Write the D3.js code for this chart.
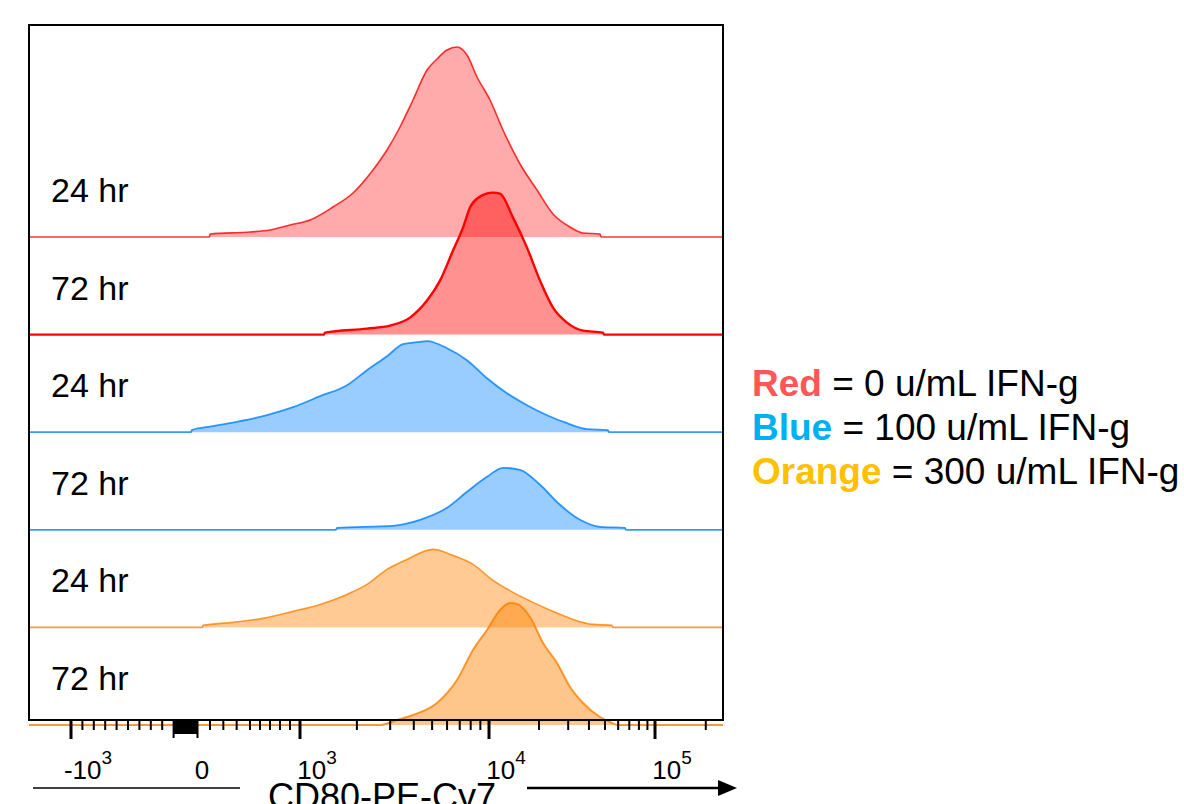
<!DOCTYPE html>
<html>
<head>
<meta charset="utf-8">
<script src="https://cdn.jsdelivr.net/npm/d3@7"></script>
<style>
	body { margin: 0; background: #fff; }
	svg { display: block; }
	text { font-family: "Liberation Sans", Arial, sans-serif; fill: #000; }
	.tick-label { font-family: "Liberation Sans Narrow", "Arial Narrow", "Liberation Sans", sans-serif; font-stretch: condensed; }
</style>
</head>
<body>
<div id="chart"></div>
<script>
(function() {
	var width = 1184,
		height = 804;

	// rows, top to bottom
	var seriesIds = ["red24", "red72", "blue24", "blue72", "orange24", "orange72"];
	var rowLabels = ["24 hr", "72 hr", "24 hr", "72 hr", "24 hr", "72 hr"];
	var rowColors = ["rgb(255,0,0)", "rgb(255,0,0)", "rgb(0,128,255)", "rgb(0,128,255)", "rgb(255,128,0)", "rgb(255,128,0)"];

	// CD80-PE-Cy7 intensity, count
	var red24 = [[196,0],[200,3],[500,5],[700,7],[900,12],[1130,17],[1495,30],[1908,44],[2433,67],[2886,87],[3382,110],[3962,137],[4699,167],[5307,178],[5995,187],[6771,190],[7649,182],[8641,160],[10140,137],[12140,107],[15370,73],[19460,47],[24300,23],[30760,10],[36850,4],[46640,3],[47300,0]];
	var red72 = [[1340,0],[1356,2],[2262,6],[2994,9],[3819,17],[4699,34],[5505,54],[6449,84],[7285,107],[7934,127],[8964,138],[10570,142],[11650,141],[13950,117],[16940,87],[20290,54],[24300,27],[29500,12],[36850,4],[48610,2],[49300,0]];
	var blue24 = [[48,0],[54,2],[222,6],[425,11],[670,17],[930,25],[1276,36],[1773,47],[2262,62],[2886,76],[3508,88],[4150,90],[4699,91],[5995,84],[7649,72],[9759,54],[12830,39],[16940,27],[22360,17],[29500,9],[38950,3],[52110,2],[52800,0]];
	var blue72 = [[1550,0],[1569,2],[3105,4],[4314,10],[5995,22],[7649,38],[9759,53],[12140,62],[15370,60],[20290,45],[26770,25],[35330,10],[46640,3],[65960,2],[66800,0]];
	var orange24 = [[138,0],[144,2],[372,5],[630,9],[930,16],[1276,23],[1773,33],[2262,43],[2886,58],[3683,68],[5054,78],[6449,72],[8229,63],[10570,47],[13950,35],[18410,25],[24300,16],[32060,8],[42320,3],[55080,2],[55800,0]];
	var orange72 = [[2650,0],[3262,5],[3962,10],[5307,22],[6771,45],[8229,75],[9759,95],[11650,115],[13380,122],[14750,121],[17660,108],[21150,82],[25680,62],[30760,38],[36850,22],[46640,8],[53570,3],[60000,0]];
	var seriesData = [red24, red72, blue24, blue72, orange24, orange72];

	// axis
	var axisMin = -2170, axisMax = 253000;
	var labelValues = [-1000, 0, 1000, 10000, 100000];
	var labelBases = ["-10", "0", "10", "10", "10"];
	var labelExps = ["3", "", "3", "4", "5"];
	var majorTicks = [-1000, 1000, 10000, 100000];
	var zeroTicks = d3.range(-100, 101, 10);
	var minorTicks = d3.range(-900, -100, 100)
		.concat(d3.range(200, 1000, 100))
		.concat(d3.range(2000, 10000, 1000))
		.concat(d3.range(20000, 100000, 10000))
		.concat([200000]);
	var axisTitle = "CD80-PE-Cy7";

	// legend
	var legendNames = ["Red", "Blue", "Orange"];
	var legendDoses = ["0", "100", "300"];
	var legendColors = ["#ff5757", "#00b0f0", "#ffc000"];

	var svg = d3.select("#chart")
		.append("svg")
		.attr("width", width)
		.attr("height", height);

	var frame = { left: 29, right: 723, top: 25, bottom: 720 };

	// biexponential-like display: linear near zero, log above 10^3
	function decade(v) {
		if (v > 1000) return 1 + Math.log10(v / 1000);
		if (v < -1000) return -1 - Math.log10(-v / 1000);
		return v / 1000;
	}
	var xScale = d3.scaleLinear()
		.domain([decade(axisMin), -1, 0, 0.2, 0.5, 1, 2, 3, decade(axisMax)])
		.range([frame.left, 71, 185, 210, 250, 300, 489, 655, frame.right]);
	var x = function(v) { return xScale(decade(v)); };

	var rowScale = d3.scalePoint()
		.domain(seriesIds)
		.range([237, 725]);

	var countScale = d3.scaleLinear()
		.domain([0, 100])
		.range([0, 100]);

	svg.append("rect")
		.attr("x", frame.left)
		.attr("y", frame.top)
		.attr("width", frame.right - frame.left)
		.attr("height", frame.bottom - frame.top)
		.attr("fill", "#fff");

	var fillOpacity = [0.33, 0.43, 0.4, 0.4, 0.42, 0.45];
	var strokeWidth = [1.6, 2.4, 1.8, 1.8, 1.6, 2];

	seriesIds.forEach(function(id, i) {
		var base = rowScale(id);
		var pts = [[axisMin, 0]].concat(seriesData[i]).concat([[axisMax, 0]]);

		var area = d3.area()
			.curve(d3.curveMonotoneX)
			.x(function(d) { return x(d[0]); })
			.y0(base)
			.y1(function(d) { return base - countScale(d[1]); });

		var line = d3.line()
			.curve(d3.curveMonotoneX)
			.x(function(d) { return x(d[0]); })
			.y(function(d) { return base - countScale(d[1]); });

		svg.append("path")
			.attr("d", area(pts))
			.attr("fill", rowColors[i])
			.attr("fill-opacity", fillOpacity[i]);

		svg.append("path")
			.attr("d", line(pts))
			.attr("fill", "none")
			.attr("stroke", rowColors[i])
			.attr("stroke-opacity", i === 1 ? 1 : 0.8)
			.attr("stroke-width", strokeWidth[i])
			.attr("stroke-linejoin", "round");
	});

	// row labels
	svg.selectAll(".row-label")
		.data(seriesIds)
		.enter().append("text")
		.attr("class", "row-label")
		.attr("x", 51)
		.attr("y", function(d) { return rowScale(d) - 35; })
		.attr("font-size", 34)
		.text(function(d, i) { return rowLabels[i]; });

	// frame
	svg.append("rect")
		.attr("x", frame.left)
		.attr("y", frame.top)
		.attr("width", frame.right - frame.left)
		.attr("height", frame.bottom - frame.top)
		.attr("fill", "none")
		.attr("stroke", "#000")
		.attr("stroke-width", 2);

	// ticks
	var ticks = svg.append("g");
	ticks.selectAll(".minor")
		.data(minorTicks)
		.enter().append("line")
		.attr("x1", x).attr("x2", x)
		.attr("y1", frame.bottom).attr("y2", frame.bottom + 10)
		.attr("stroke", "#000").attr("stroke-width", 2);
	ticks.selectAll(".zero")
		.data(zeroTicks)
		.enter().append("line")
		.attr("x1", x).attr("x2", x)
		.attr("y1", frame.bottom)
		.attr("y2", function(d) { return frame.bottom + (Math.abs(d) === 100 ? 18 : 14); })
		.attr("stroke", "#000").attr("stroke-width", 2);
	ticks.selectAll(".major")
		.data(majorTicks)
		.enter().append("line")
		.attr("x1", x).attr("x2", x)
		.attr("y1", frame.bottom).attr("y2", frame.bottom + 19)
		.attr("stroke", "#000").attr("stroke-width", 3);

	var labels = svg.selectAll(".tick-label")
		.data(labelValues)
		.enter().append("text")
		.attr("class", "tick-label")
		.attr("x", function(d) { return x(d) + 17; })
		.attr("y", 779)
		.attr("text-anchor", "middle")
		.attr("font-size", 26);
	labels.append("tspan")
		.text(function(d, i) { return labelBases[i]; });
	labels.append("tspan")
		.attr("dy", -15)
		.attr("font-size", 19)
		.text(function(d, i) { return labelExps[i]; });

	// axis title with arrow
	svg.append("line")
		.attr("x1", 33).attr("x2", 240)
		.attr("y1", 788).attr("y2", 788)
		.attr("stroke", "#000").attr("stroke-width", 1.5);
	svg.append("line")
		.attr("x1", 527).attr("x2", 722)
		.attr("y1", 788).attr("y2", 788)
		.attr("stroke", "#000").attr("stroke-width", 2.5);
	svg.append("path")
		.attr("d", "M718,780L737,788L718,796Z")
		.attr("fill", "#000");
	svg.append("text")
		.attr("x", 382)
		.attr("y", 809)
		.attr("text-anchor", "middle")
		.attr("font-size", 36)
		.text(axisTitle);

	// legend
	var legend = svg.selectAll(".legend")
		.data(legendNames)
		.enter().append("text")
		.attr("class", "legend")
		.attr("x", 752)
		.attr("y", function(d, i) { return 396 + i * 44; })
		.attr("font-size", 37);
	legend.append("tspan")
		.attr("font-weight", "bold")
		.style("fill", function(d, i) { return legendColors[i]; })
		.text(function(d) { return d; });
	legend.append("tspan")
		.text(function(d, i) { return " = " + legendDoses[i] + " u/mL IFN-g"; });
})();
</script>
</body>
</html>
